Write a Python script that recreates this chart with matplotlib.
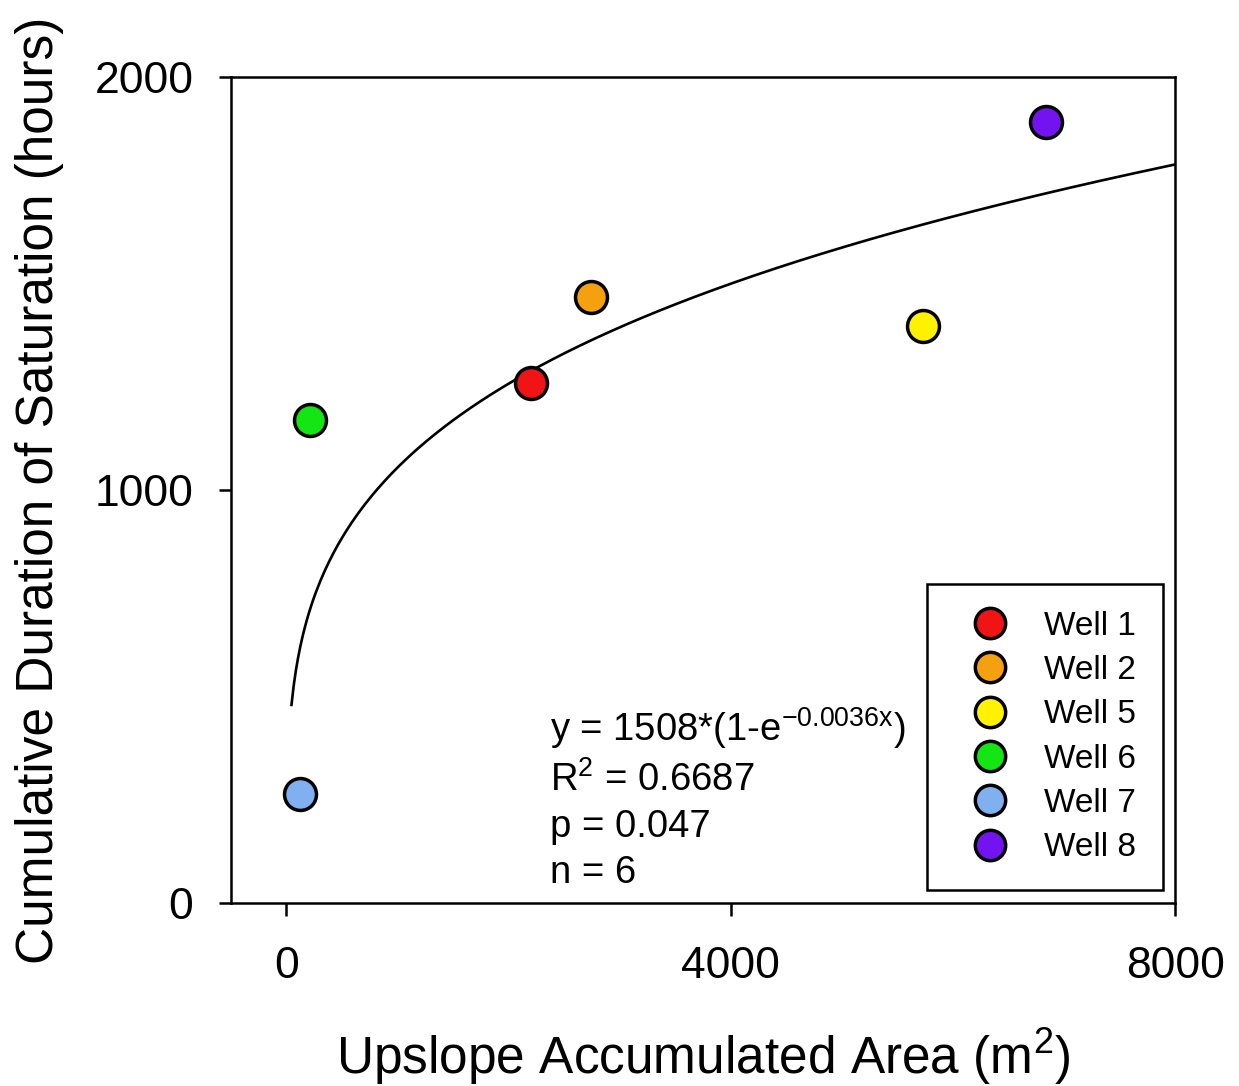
import numpy as np
import matplotlib.pyplot as plt

plt.rcParams['font.family'] = ['Liberation Sans', 'DejaVu Sans']
plt.rcParams['mathtext.default'] = 'regular'

# well data
wells = ['Well 1', 'Well 2', 'Well 5', 'Well 6', 'Well 7', 'Well 8']
area = [2200, 2740, 5730, 215, 125, 6840]          # m^2
duration = [1258, 1467, 1397, 1169, 264, 1891]     # hours
colors = ['#f01414', '#f5a00f', '#fff200', '#14e614', '#80b0f0', '#7314f0']

# fitted curve as drawn (power-law shape), params estimated from the plot
fit_a = 182.4
fit_b = 0.254
fit_x0 = 45
fit_x1 = 8000

xticks = [0, 4000, 8000]
yticks = [0, 1000, 2000]


def main():
    fig = plt.figure(figsize=(12.39, 10.86), dpi=100)
    ax = fig.add_axes([0.1864, 0.1685, 0.762, 0.7606])

    xs = np.linspace(fit_x0, fit_x1, 400)
    ax.plot(xs, fit_a * xs ** fit_b, color='black', lw=1.9, zorder=2)

    for x, y, c, lab in zip(area, duration, colors, wells):
        ax.plot(x, y, 'o', ms=23, mfc=c, mec='black', mew=2.5, label=lab,
                linestyle='none', zorder=3)

    ax.set_xlim(-500, 8000)
    ax.set_ylim(0, 2000)
    ax.set_xticks(xticks)
    ax.set_yticks(yticks)
    ax.tick_params(direction='out', length=9, width=1.8, labelsize=32)
    ax.tick_params(axis='x', pad=22)
    ax.tick_params(axis='y', pad=18)
    for s in ax.spines.values():
        s.set_linewidth(1.8)

    ax.set_xlabel('Upslope Accumulated Area (m$^2$)', fontsize=37, labelpad=28)
    ax.set_ylabel('Cumulative Duration of Saturation (hours)', fontsize=37,
                  labelpad=22)

    leg = ax.legend(loc='lower right', bbox_to_anchor=(0.987, 0.0157),
                    fontsize=24, frameon=True, fancybox=False, framealpha=1,
                    edgecolor='black', markerscale=0.95, handlelength=2.16,
                    handletextpad=0.54, labelspacing=0.4, borderpad=0.8,
                    borderaxespad=0)
    leg.get_frame().set_linewidth(1.8)

    txt = ('y = 1508*(1-e$^{-0.0036x}$)\n'
           'R$^2$ = 0.6687\n'
           'p = 0.047\n'
           'n = 6')
    ax.text(0.3375, 0.014, txt, transform=ax.transAxes, fontsize=27.5,
            va='bottom', ha='left', linespacing=1.36)

    plt.savefig('out.png', dpi=100)
    plt.close('all')


if __name__ == '__main__':
    main()
